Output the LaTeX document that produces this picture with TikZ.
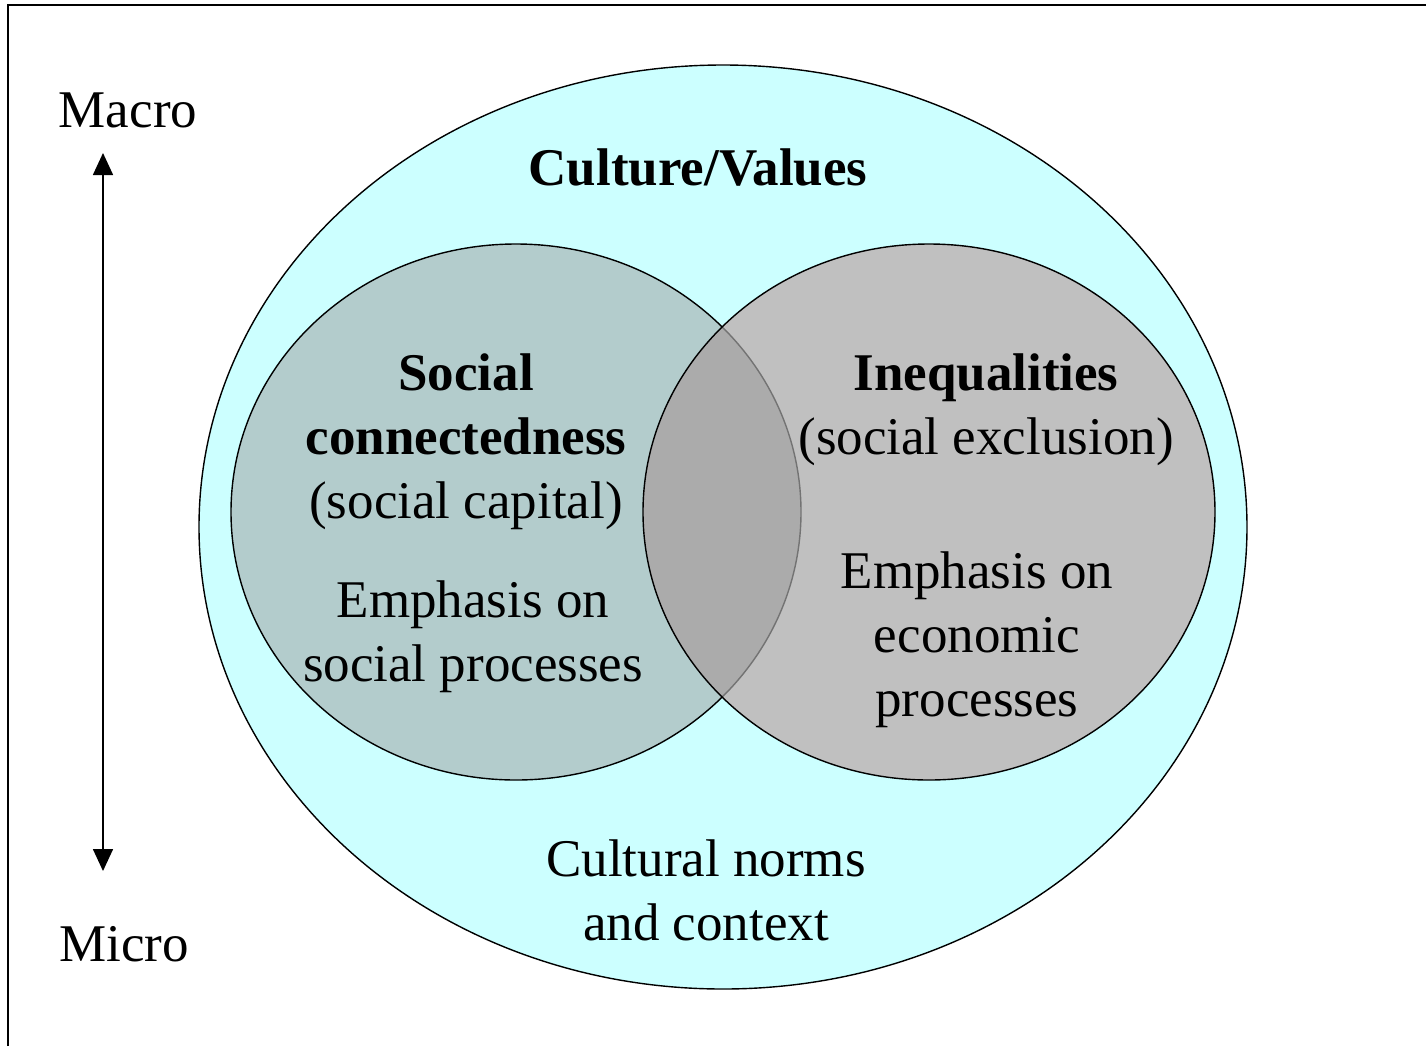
\documentclass[tikz,border=0pt]{standalone}
\usepackage{fontspec}
\setmainfont{Liberation Serif}
\usetikzlibrary{arrows.meta}

\definecolor{cultcyan}{HTML}{CCFFFF}
\definecolor{socfill}{HTML}{B3CCCC}
\definecolor{ineqfill}{HTML}{C0C0C0}
\definecolor{bothfill}{HTML}{ABABAB}

\begin{document}
\begin{tikzpicture}[x=0.5pt,y=-0.5pt,
  label/.style={align=center,font=\fontsize{26.5}{32}\selectfont},
  ring/.style={draw=black,line width=0.7pt}]

\useasboundingbox (0,0) rectangle (1426,1046);
\draw[line width=1pt] (8,1046) |- (1426,5);

%% outer ellipse and the two circles
\filldraw[ring,fill=cultcyan] (723,527) ellipse [x radius=524,y radius=462];
\filldraw[ring,fill=socfill] (516,512) ellipse [x radius=285,y radius=268];
\fill[ineqfill] (929,512) ellipse [x radius=286,y radius=268];
\begin{scope}
  \clip (929,512) ellipse [x radius=286,y radius=268];
  \fill[bothfill] (516,512) ellipse [x radius=285,y radius=268];
  \draw[line width=0.7pt,black!55] (516,512) ellipse [x radius=285,y radius=268];
\end{scope}
\draw[ring] (929,512) ellipse [x radius=286,y radius=268];

%% scale on the left
\node[label] (macro) at (128,110) {Macro};
\node[label] (micro) at (124,944) {Micro};
\coordinate (up) at (103,153);
\coordinate (down) at (103,871);
\draw[line width=0.8pt,{Triangle[length=11pt,width=10pt]}-{Triangle[length=11pt,width=10pt]}] (up) -- (down);

%% texts
\node[label] (culture) at (698,168) {\textbf{Culture/Values}};
\node[label] (social) at (466,442) {\textbf{Social}\\\textbf{connectedness}\\(social capital)};
\node[label] (socemph) at (473,637) {Emphasis on\\social processes};
\node[label] (ineq) at (986,410) {\textbf{Inequalities}\\(social exclusion)};
\node[label] (ineqemph) at (977,640) {Emphasis on\\economic\\processes};
\node[label] (norms) at (706,890) {Cultural norms\\and context};

\end{tikzpicture}
\end{document}
